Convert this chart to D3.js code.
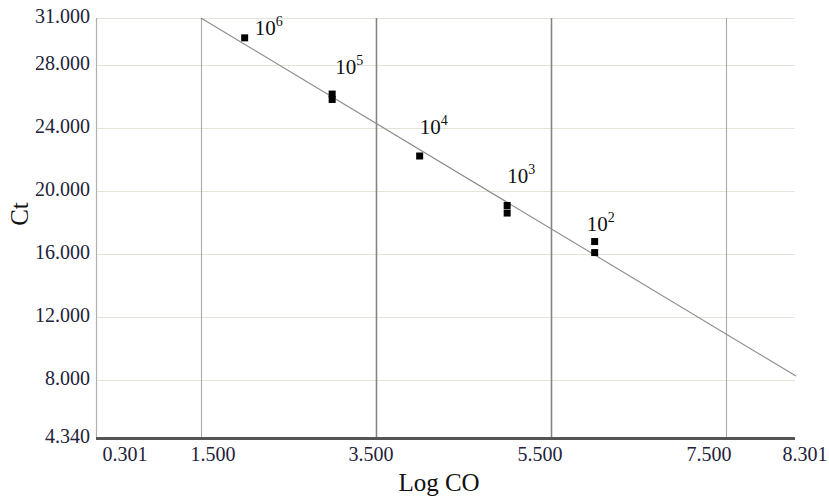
<!DOCTYPE html>
<html>
<head>
<meta charset="utf-8">
<script src="https://cdn.jsdelivr.net/npm/d3@7"></script>
<style>
  html, body { margin: 0; padding: 0; background: #fff; }
  svg { display: block; }
  text { font-family: "Liberation Serif", "DejaVu Serif", serif; }
</style>
</head>
<body>
<svg id="chart" width="829" height="497"></svg>
<script>
// ---- data ----
const xTicks = [0.301, 1.5, 3.5, 5.5, 7.5, 8.301];
const xTickLabels = ["0.301", "1.500", "3.500", "5.500", "7.500", "8.301"];
const yTicks = [4.34, 8, 12, 16, 20, 24, 28, 31];
const yTickLabels = ["4.340", "8.000", "12.000", "16.000", "20.000", "24.000", "28.000", "31.000"];
const xGrid = [1.5, 3.5, 5.5, 7.5];
const yGrid = [8, 12, 16, 20, 24, 28, 31];
const logCO = [2, 3, 3, 4, 5, 5, 6, 6];
const ct = [29.74, 26.17, 25.83, 22.24, 19.10, 18.62, 16.81, 16.11];
const labelX = [2, 3, 4, 5, 6];
const labelExp = ["6", "5", "4", "3", "2"];
const labelTopCt = [29.74, 26.17, 22.24, 19.10, 16.81];
const fitLine = [[1.5, 31.0], [8.301, 8.27]];

// ---- layout ----
const svg = d3.select("#chart");
const mLeft = 96, mRight = 796, mTop = 18, mBottom = 438;
const x = d3.scaleLinear().domain([0.301, 8.301]).range([mLeft, mRight]);
const y = d3.scaleLinear().domain([4.34, 31]).range([mBottom, mTop]);

// label offsets (styling, px)
const xLabelDx = [29, 12, -5, -11, -17, 9];
const annDx = [10, 3, 0, 0, -8];
const annDy = [-3, -20, -22, -22, -11];
const darkGrid = { 1.5: "#a8a8a8", 3.5: "#858585", 5.5: "#858585", 7.5: "#a8a8a8" };

// horizontal grid
svg.append("g").selectAll("line").data(yGrid).join("line")
  .attr("x1", mLeft).attr("x2", mRight - 1)
  .attr("y1", d => Math.round(y(d)) + 0.5).attr("y2", d => Math.round(y(d)) + 0.5)
  .attr("stroke", "#e4e4da").attr("stroke-width", 1.2);

// vertical grid
svg.append("g").selectAll("line").data(xGrid).join("line")
  .attr("x1", d => Math.round(x(d)) + 0.5).attr("x2", d => Math.round(x(d)) + 0.5)
  .attr("y1", mTop).attr("y2", mBottom)
  .attr("stroke", d => darkGrid[d]).attr("stroke-width", d => (d === 3.5 || d === 5.5) ? 1.6 : 1.1);

// left axis line
svg.append("line")
  .attr("x1", mLeft + 0.5).attr("x2", mLeft + 0.5).attr("y1", mTop).attr("y2", mBottom)
  .attr("stroke", "#b0b0b0").attr("stroke-width", 1.2);

// fit line
svg.append("path")
  .datum(fitLine)
  .attr("d", d3.line().x(d => x(d[0])).y(d => y(d[1])))
  .attr("fill", "none").attr("stroke", "#8a8a8a").attr("stroke-width", 1.1);

// bottom axis line
svg.append("line")
  .attr("x1", mLeft).attr("x2", mRight - 1).attr("y1", mBottom + 0.5).attr("y2", mBottom + 0.5)
  .attr("stroke", "#555").attr("stroke-width", 3);

// markers
const ms = 7;
svg.append("g").selectAll("rect").data(logCO.map((v, i) => [v, ct[i]])).join("rect")
  .attr("x", d => x(d[0]) - ms / 2).attr("y", d => y(d[1]) - ms / 2)
  .attr("width", ms).attr("height", ms).attr("fill", "#000");

// annotations 10^n
const ann = svg.append("g").selectAll("text").data(labelX.map((v, i) => i)).join("text")
  .attr("x", i => x(labelX[i]) + annDx[i])
  .attr("y", i => y(labelTopCt[i]) + annDy[i])
  .attr("font-size", 21).attr("fill", "#111");
ann.append("tspan").text("10");
ann.append("tspan").attr("dy", -9).attr("font-size", 14).text(i => labelExp[i]);

// y tick labels
svg.append("g").selectAll("text").data(yTicks).join("text")
  .attr("x", 90).attr("y", d => y(d) - 2)
  .attr("text-anchor", "end").attr("dominant-baseline", "central")
  .attr("font-size", 20).attr("fill", "#22223a")
  .text((d, i) => yTickLabels[i]);

// x tick labels
svg.append("g").selectAll("text").data(xTicks).join("text")
  .attr("x", (d, i) => x(d) + xLabelDx[i]).attr("y", 461)
  .attr("text-anchor", "middle")
  .attr("font-size", 20).attr("fill", "#22223a")
  .text((d, i) => xTickLabels[i]);

// axis titles
svg.append("text").attr("x", 439).attr("y", 491).attr("text-anchor", "middle")
  .attr("font-size", 25).attr("fill", "#111").text("Log CO");
svg.append("text").attr("transform", "translate(28,214) rotate(-90)")
  .attr("text-anchor", "middle").attr("font-size", 25).attr("fill", "#111").text("Ct");
</script>
</body>
</html>
